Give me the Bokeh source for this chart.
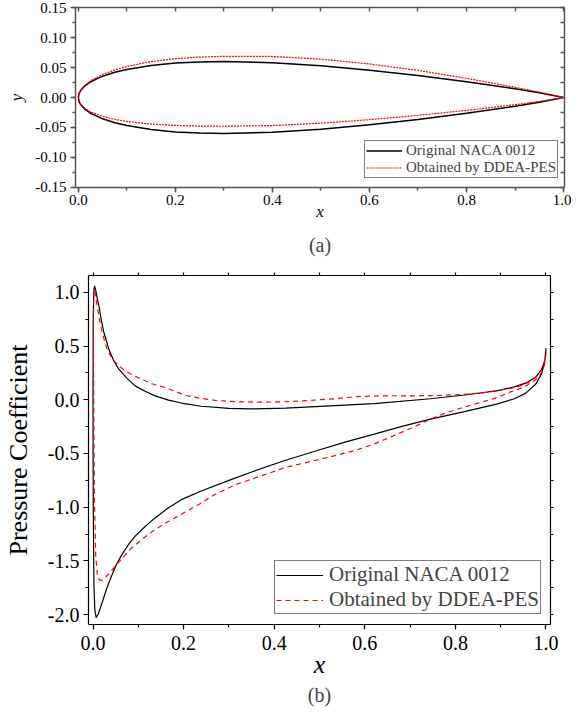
from bokeh.plotting import figure
from bokeh.models import (LinearAxis, SingleIntervalTicker, NumeralTickFormatter,
                          CustomJSTickFormatter, Legend, LegendItem, Title, Range1d)
from bokeh.embed import file_html
from bokeh.resources import INLINE

FONT = "Liberation Serif"

# ---------------- (a) airfoil shapes ----------------
AIRFOIL_X = [0.0, 0.001, 0.0025, 0.005, 0.0125, 0.025, 0.05, 0.075, 0.1, 0.15, 0.2,
             0.25, 0.3, 0.4, 0.5, 0.6, 0.7, 0.8, 0.9, 0.95, 1.0]
ORIG_UPPER = [0.0, 0.0056, 0.0087, 0.0122, 0.0189, 0.0262, 0.0356, 0.0420, 0.0468, 0.0535,
              0.0574, 0.0594, 0.0600, 0.0580, 0.0529, 0.0456, 0.0366, 0.0262, 0.0145, 0.0081, 0.0]
ORIG_LOWER = [0.0, -0.0056, -0.0087, -0.0122, -0.0189, -0.0262, -0.0356, -0.0420, -0.0468, -0.0535,
              -0.0574, -0.0594, -0.0600, -0.0580, -0.0529, -0.0456, -0.0366, -0.0262, -0.0145, -0.0081, 0.0]
OPT_UPPER = [0.0, 0.0057, 0.0088, 0.0125, 0.0198, 0.0278, 0.0385, 0.0460, 0.0518, 0.0600,
             0.0648, 0.0675, 0.0688, 0.0685, 0.0640, 0.0560, 0.0452, 0.0320, 0.0170, 0.0090, 0.0]
OPT_LOWER = [0.0, -0.0055, -0.0086, -0.0118, -0.0178, -0.0240, -0.0315, -0.0365, -0.0400, -0.0443,
             -0.0466, -0.0477, -0.0480, -0.0468, -0.0428, -0.0370, -0.0298, -0.0215, -0.0120, -0.0066, 0.0]

# ---------------- (b) pressure coefficient ----------------
CP_ORIG_X = [1.0, 0.997, 0.99, 0.978, 0.955, 0.93, 0.891, 0.82, 0.745, 0.68, 0.621, 0.56,
             0.497, 0.42, 0.352, 0.3, 0.239, 0.195, 0.165, 0.137, 0.115, 0.093, 0.078,
             0.064, 0.052, 0.042, 0.03, 0.02, 0.012, 0.007, 0.004, 0.002, 0.0005, 0.0,
             0.0005, 0.002, 0.0035, 0.006, 0.009, 0.013, 0.018, 0.024, 0.035, 0.045, 0.057,
             0.075, 0.093, 0.115, 0.137, 0.165, 0.195, 0.239, 0.3, 0.35, 0.425, 0.534,
             0.621, 0.745, 0.82, 0.891, 0.93, 0.955, 0.977, 0.99, 0.997, 1.0]
CP_ORIG = [0.48, 0.35, 0.24, 0.15, 0.06, 0.01, -0.04, -0.11, -0.18, -0.25, -0.32, -0.39,
           -0.47, -0.57, -0.67, -0.75, -0.85, -0.93, -1.01, -1.10, -1.18, -1.27, -1.35,
           -1.44, -1.53, -1.63, -1.76, -1.89, -1.99, -2.03, -1.96, -1.72, -1.0, 0.0,
           0.8, 1.03, 1.06, 1.02, 0.95, 0.876, 0.75, 0.627, 0.47, 0.37, 0.285,
           0.20, 0.13, 0.08, 0.037, 0.0, -0.03, -0.06, -0.08, -0.085, -0.078, -0.055,
           -0.035, 0.01, 0.045, 0.084, 0.12, 0.155, 0.21, 0.28, 0.36, 0.45]
CP_OPT_X = [1.0, 0.997, 0.99, 0.978, 0.96, 0.949, 0.92, 0.891, 0.855, 0.818, 0.78, 0.745,
            0.71, 0.672, 0.621, 0.58, 0.534, 0.48, 0.425, 0.37, 0.315, 0.27, 0.235, 0.206,
            0.159, 0.13, 0.108, 0.085, 0.068, 0.049, 0.035, 0.028, 0.02, 0.015, 0.01,
            0.006, 0.003, 0.0015, 0.001, 0.0015, 0.003, 0.005, 0.009, 0.014, 0.02, 0.031,
            0.04, 0.049, 0.06, 0.071, 0.09, 0.108, 0.13, 0.159, 0.18, 0.206, 0.235, 0.27,
            0.315, 0.37, 0.425, 0.48, 0.534, 0.58, 0.621, 0.66, 0.709, 0.76, 0.818, 0.86,
            0.891, 0.92, 0.949, 0.965, 0.978, 0.99, 0.997, 1.0]
CP_OPT = [0.43, 0.33, 0.25, 0.19, 0.14, 0.115, 0.07, 0.02, -0.025, -0.07, -0.12, -0.18,
          -0.25, -0.32, -0.41, -0.47, -0.52, -0.575, -0.63, -0.71, -0.79, -0.88, -0.97, -1.04,
          -1.15, -1.23, -1.30, -1.38, -1.46, -1.55, -1.62, -1.65, -1.68, -1.68, -1.65,
          -1.45, -0.9, 0.0, 0.7, 1.0, 1.03, 1.0, 0.876, 0.75, 0.627, 0.47,
          0.40, 0.35, 0.305, 0.27, 0.225, 0.19, 0.15, 0.115, 0.08, 0.04, 0.015, -0.005,
          -0.018, -0.022, -0.018, -0.005, 0.01, 0.03, 0.035, 0.038, 0.037, 0.04, 0.05, 0.065,
          0.084, 0.105, 0.136, 0.17, 0.21, 0.28, 0.36, 0.42]

LEGEND_LABELS = ["Original NACA 0012", "Obtained by DDEA-PES"]


def add_axis(p, place, interval, minor, fmt, color, tin, tout, mtin, mtout,
             size, label="", label_size="16px", label_style="italic", standoff=5, lstand=6,
             show_labels=True, width=1.5):
    ax = LinearAxis(ticker=SingleIntervalTicker(interval=interval, num_minor_ticks=minor))
    if show_labels:
        ax.formatter = NumeralTickFormatter(format=fmt)
    else:
        ax.formatter = CustomJSTickFormatter(code="return ''")
    ax.axis_line_color = color
    ax.axis_line_width = width
    ax.major_tick_line_color = color
    ax.minor_tick_line_color = color
    ax.major_tick_line_width = width
    ax.minor_tick_line_width = width
    ax.major_tick_in = tin
    ax.major_tick_out = tout
    ax.minor_tick_in = mtin
    ax.minor_tick_out = mtout
    ax.major_label_text_font = FONT
    ax.major_label_text_font_size = size
    ax.major_label_text_color = "black"
    ax.major_label_standoff = standoff
    if label:
        ax.axis_label = label
        ax.axis_label_text_font = FONT
        ax.axis_label_text_font_size = label_size
        ax.axis_label_text_font_style = label_style
        ax.axis_label_standoff = lstand
        ax.axis_label_text_color = "black"
    p.add_layout(ax, place)
    return ax


# ---------- figure (a) ----------
H1 = 271
p1 = figure(width=571, height=H1, output_backend="svg", toolbar_location=None,
            x_range=Range1d(-0.006, 1.002), y_range=Range1d(-0.1502, 0.1502),
            x_axis_type=None, y_axis_type=None,
            min_border_left=75, min_border_right=7, min_border_top=7, min_border_bottom=84)
p1.title.visible = False
p1.outline_line_color = None
p1.xgrid.visible = False
p1.ygrid.visible = False

AX1 = "#555555"
add_axis(p1, "below", 0.2, 2, "0.0", AX1, 0, 5, 0, 3, "15px", label="x", label_size="17px",
         standoff=2, lstand=-6)
add_axis(p1, "left", 0.05, 2, "0.00", AX1, 0, 5, 0, 3, "15px", label="y", label_size="17px",
         standoff=4, lstand=6)
add_axis(p1, "above", 0.1, 0, "0.0", AX1, 4, 0, 0, 0, "1px", standoff=0, show_labels=False)
add_axis(p1, "right", 0.025, 0, "0.0", AX1, 4, 0, 0, 0, "1px", standoff=0, show_labels=False)

ox = AIRFOIL_X[::-1] + AIRFOIL_X[1:]
oy = ORIG_UPPER[::-1] + ORIG_LOWER[1:]
ny = OPT_UPPER[::-1] + OPT_LOWER[1:]
r1 = p1.line(ox, oy, line_color="black", line_width=1.5)
r2 = p1.line(ox, ny, line_color="red", line_width=1.2, line_dash="2 1")

leg1 = Legend(items=[LegendItem(label=LEGEND_LABELS[0], renderers=[r1]),
                     LegendItem(label=LEGEND_LABELS[1], renderers=[r2])],
              location=(289, 9), margin=0, padding=1, spacing=0,
              glyph_width=36, glyph_height=17, label_height=17, label_standoff=4,
              label_text_font=FONT, label_text_font_size="15px",
              border_line_color="black", border_line_width=1, background_fill_alpha=1)
p1.add_layout(leg1)
p1.add_layout(Title(text="(a)", align="center", text_font=FONT, text_font_size="20px",
                    text_font_style="normal", standoff=17), "below")

# ---------- figure (b) ----------
p2 = figure(width=571, height=709 - H1, output_backend="svg", toolbar_location=None,
            x_range=Range1d(-0.01, 1.01), y_range=Range1d(-2.093, 1.158),
            x_axis_type=None, y_axis_type=None,
            min_border_left=83, min_border_right=21, min_border_top=4, min_border_bottom=85)
p2.title.visible = False
p2.outline_line_color = None
p2.xgrid.visible = False
p2.ygrid.visible = False

AX2 = "black"
add_axis(p2, "below", 0.2, 2, "0.0", AX2, 0, 5, 0, 3, "20px", label="x", label_size="26px",
         standoff=6, lstand=-3, width=1.2)
add_axis(p2, "left", 0.5, 2, "0.0", AX2, 0, 5, 0, 3, "20px", label="Pressure Coefficient",
         label_size="26px", label_style="normal", standoff=4, lstand=12, width=1.2)
add_axis(p2, "above", 0.1, 0, "0.0", AX2, 0, 3, 0, 0, "1px", standoff=0, show_labels=False, width=1.2)
add_axis(p2, "right", 0.25, 0, "0.0", AX2, 0, 3, 0, 0, "1px", standoff=0, show_labels=False, width=1.2)

s1 = p2.line(CP_ORIG_X, CP_ORIG, line_color="black", line_width=1.2)
s2 = p2.line(CP_OPT_X, CP_OPT, line_color="red", line_width=1.2, line_dash="5 4")

leg2 = Legend(items=[LegendItem(label=LEGEND_LABELS[0], renderers=[s1]),
                     LegendItem(label=LEGEND_LABELS[1], renderers=[s2])],
              location=(186, 10), margin=0, padding=1, spacing=0,
              glyph_width=47, glyph_height=24, label_height=24, label_standoff=6,
              label_text_font=FONT, label_text_font_size="21px",
              border_line_color="black", border_line_width=1, background_fill_alpha=1)
p2.add_layout(leg2)
p2.add_layout(Title(text="(b)", align="center", text_font=FONT, text_font_size="20px",
                    text_font_style="normal", standoff=1), "below")

# two independent roots, so the two frames are not forced to align
open("out.html", "w").write(file_html([p1, p2], INLINE))
